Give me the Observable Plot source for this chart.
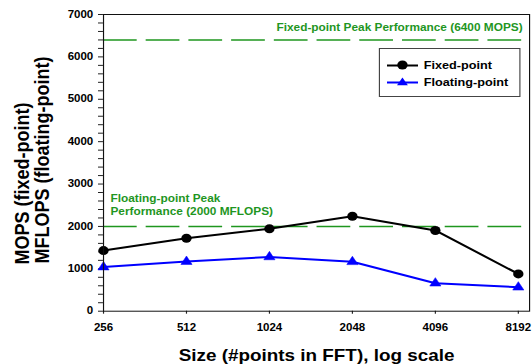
<!DOCTYPE html>
<html>
<head>
<meta charset="utf-8">
<script src="https://cdn.jsdelivr.net/npm/d3@7"></script>
<script src="https://cdn.jsdelivr.net/npm/@observablehq/plot@0.6"></script>
<style>
  html, body { margin: 0; padding: 0; background: #fff; overflow: hidden; }
  #wrap { position: relative; width: 462px; height: 364px; transform: scaleX(1.1515); transform-origin: 0 0;
          font-family: "Liberation Sans", Arial, sans-serif; font-weight: bold; }
  #legend { position: absolute; left: 329px; top: 48px; width: 121px; height: 47px; border: 1px solid #444; background: #fff; }
  .row { position: absolute; left: 0; height: 14px; display: flex; align-items: center; font-size: 11px; color: #000; }
  .row svg { margin-left: 6px; margin-right: 5px; }
</style>
</head>
<body>
<div id="wrap"><div id="legend"></div></div>
<script>
const sizes = [256, 512, 1024, 2048, 4096, 8192];
const fixedMops = [1430, 1720, 1945, 2240, 1905, 880];
const floatMflops = [1040, 1170, 1280, 1165, 660, 565];
const yMajor = [0, 1000, 2000, 3000, 4000, 5000, 6000, 7000];
const yMinor = d3.range(0, 7001, 200).filter(v => v % 1000 !== 0);
const fixedPeak = 6400;
const floatPeak = 2000;
const seriesNames = ["Fixed-point", "Floating-point"];
const fixedPeakLabel = "Fixed-point Peak Performance (6400 MOPS)";
const floatPeakLabel = "Floating-point Peak\nPerformance (2000 MFLOPS)";
const xLabel = "Size (#points in FFT), log scale";
const yLabel1 = "MOPS (fixed-point)";
const yLabel2 = "MFLOPS (floating-point)";

const green = "#1f961f";
const rows = sizes.map((s, i) => ({size: s, fixed: fixedMops[i], floating: floatMflops[i]}));

const chart = Plot.plot({
  width: 462,
  height: 364,
  marginLeft: 89.4,
  marginRight: 2.6,
  marginTop: 14,
  marginBottom: 53.3,
  style: {fontFamily: "'Liberation Sans', Arial, sans-serif", fontWeight: "bold", fontSize: "10px", background: "#fff"},
  x: {type: "log", domain: [256, 9000]},
  y: {domain: [0, 7000]},
  marks: [
    Plot.axisY({ticks: yMinor, tickSize: 4.3, tickFormat: () => "", label: null, stroke: "#222"}),
    Plot.axisY({ticks: yMajor, tickSize: 4.3, tickPadding: 4.6, tickFormat: d => String(d), label: null, fontSize: 10, fill: "#000", stroke: "#222"}),
    Plot.axisX({ticks: sizes, tickSize: 3, tickFormat: () => "", label: null, stroke: "#222"}),
    Plot.text(sizes, {x: d => d, text: d => String(d), frameAnchor: "bottom", lineAnchor: "top", dy: 12.5, fontSize: 10, fontWeight: "bold", fill: "#000"}),
    Plot.ruleY([fixedPeak], {stroke: green, strokeWidth: 1.4, strokeDasharray: "29.3,7.8"}),
    Plot.ruleY([floatPeak], {stroke: green, strokeWidth: 1.4, strokeDasharray: "29.3,7.8"}),
    Plot.text([fixedPeak], {y: d => d, text: () => fixedPeakLabel, frameAnchor: "right", textAnchor: "end", dx: -6, dy: -12.5, fill: green, fontSize: 10.3, fontWeight: "bold"}),
    Plot.text([floatPeak], {y: d => d, text: () => floatPeakLabel, frameAnchor: "left", textAnchor: "start", lineAnchor: "bottom", lineHeight: 1.33, dx: 6, dy: -11.1, fill: green, fontSize: 10.3, fontWeight: "bold"}),
    Plot.line(rows, {x: "size", y: "floating", stroke: "#0000ff", strokeWidth: 2}),
    Plot.dot(rows, {x: "size", y: "floating", symbol: "triangle", r: 3.6, fill: "#0000ff", stroke: "#0000ff", strokeWidth: 0.5}),
    Plot.line(rows, {x: "size", y: "fixed", stroke: "#000", strokeWidth: 2}),
    Plot.dot(rows, {x: "size", y: "fixed", symbol: "circle", r: 4.5, fill: "#000"}),
    Plot.frame({stroke: "#111", strokeWidth: 1}),
    Plot.text([xLabel], {text: d => d, frameAnchor: "bottom", lineAnchor: "bottom", dy: 49.3, fontSize: 16.4, fontWeight: "bold", fill: "#000"}),
    Plot.text([yLabel1], {text: d => d, frameAnchor: "bottom-left", rotate: -90, textAnchor: "start", lineAnchor: "bottom", dx: -65.1, dy: -46.7, fontSize: 18, fontWeight: "bold", fill: "#000"}),
    Plot.text([yLabel2], {text: d => d, frameAnchor: "bottom-left", rotate: -90, textAnchor: "start", lineAnchor: "bottom", dx: -47.7, dy: -47.7, fontSize: 18, fontWeight: "bold", fill: "#000"})
  ]
});
const wrap = document.getElementById("wrap");
wrap.insertBefore(chart, wrap.firstChild);

// legend
const legend = document.getElementById("legend");
const legendItems = [
  {name: seriesNames[0], color: "#000", symbol: "circle"},
  {name: seriesNames[1], color: "#0000ff", symbol: "triangle"}
];
legendItems.forEach((it, i) => {
  const row = document.createElement("div");
  row.className = "row";
  row.style.top = (9 + i * 17) + "px";
  const sym = it.symbol === "circle"
    ? `<circle cx="13.5" cy="7" r="4.5" fill="${it.color}"/>`
    : `<path d="M13.5,2.6L18.2,10.2L8.8,10.2Z" fill="${it.color}"/>`;
  row.innerHTML = `<svg width="27" height="14"><line x1="0" x2="27" y1="7.5" y2="7.5" stroke="${it.color}" stroke-width="2"/>${sym}</svg><span>${it.name}</span>`;
  legend.appendChild(row);
});
</script>
</body>
</html>
